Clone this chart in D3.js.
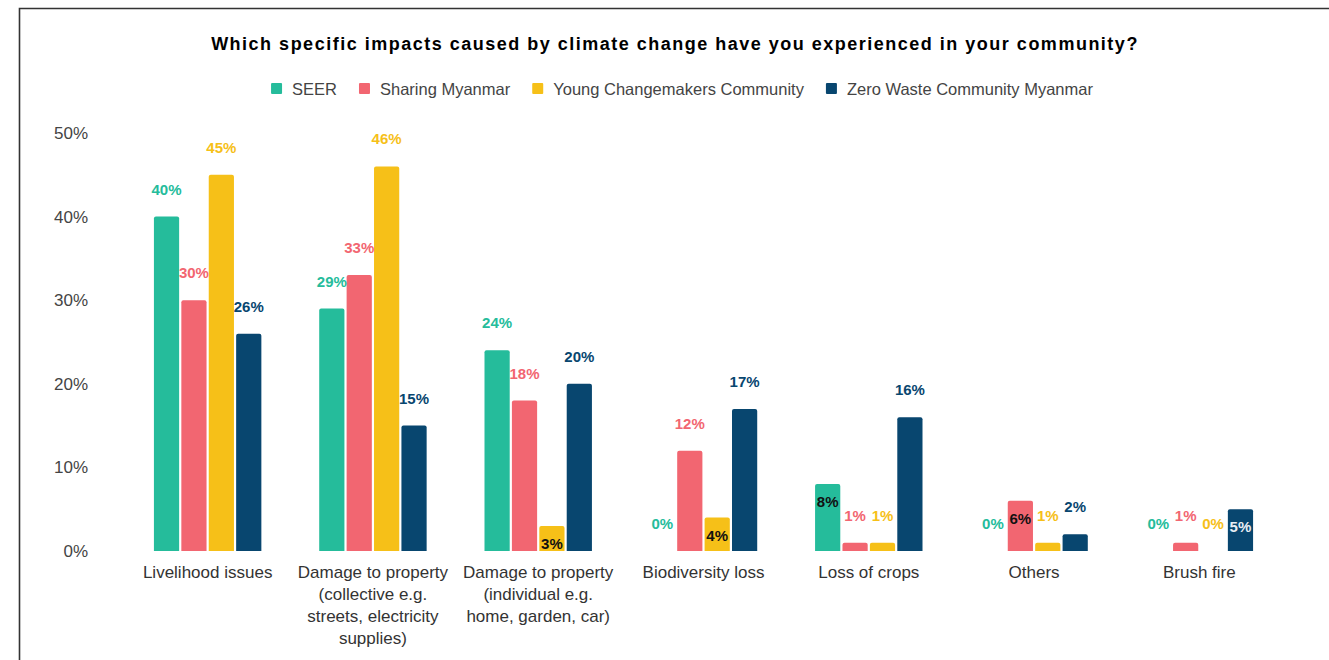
<!DOCTYPE html>
<html>
<head>
<meta charset="utf-8">
<script src="https://cdn.jsdelivr.net/npm/d3@7"></script>
<style>
  html, body { margin: 0; padding: 0; background: #fff; }
  svg { display: block; font-family: "Liberation Sans", Arial, sans-serif; }
</style>
</head>
<body>
<svg id="chart" width="1329" height="660"></svg>
<script>
const title = "Which specific impacts caused by climate change have you experienced in your community?";
const categories = [
  "Livelihood issues",
  "Damage to property\n(collective e.g.\nstreets, electricity\nsupplies)",
  "Damage to property\n(individual e.g.\nhome, garden, car)",
  "Biodiversity loss",
  "Loss of crops",
  "Others",
  "Brush fire"
];
const seriesNames = ["SEER", "Sharing Myanmar", "Young Changemakers Community", "Zero Waste Community Myanmar"];
const seer              = [40, 29, 24, 0, 8, 0, 0];
const sharingMyanmar    = [30, 33, 18, 12, 1, 6, 1];
const youngChangemakers = [45, 46, 3, 4, 1, 1, 0];
const zeroWaste         = [26, 15, 20, 17, 16, 2, 5];
const yTicks = [0, 10, 20, 30, 40, 50];
const colors = ["#25bc9b", "#f26671", "#f6c018", "#08466f"];

const seriesValues = [seer, sharingMyanmar, youngChangemakers, zeroWaste];

const svg = d3.select("#chart");

// frame
svg.append("path")
  .attr("d", "M19.5,660 L19.5,8.5 L1329,8.5")
  .attr("fill", "none").attr("stroke", "#333").attr("stroke-width", 1.6);

// title
svg.append("text")
  .attr("x", 675).attr("y", 50)
  .attr("text-anchor", "middle")
  .attr("font-size", 18).attr("font-weight", "bold").attr("fill", "#000")
  .attr("letter-spacing", 1.5)
  .text(title);

const y = d3.scaleLinear().domain([0, 50]).range([551, 133]);
const x0 = d3.scaleBand().domain(categories).range([125, 1282]).paddingInner(0.35).paddingOuter(0.175);
const x1 = d3.scaleBand().domain(seriesNames).range([0, x0.bandwidth()]).paddingInner(0.08);

// y axis
const yAxis = d3.axisLeft(y).tickValues(yTicks).tickFormat(d => d + "%").tickSize(0).tickPadding(0);
const gy = svg.append("g").attr("transform", "translate(88,0)").call(yAxis);
gy.select(".domain").remove();
gy.selectAll("text").attr("font-size", 17).attr("fill", "#444").attr("font-family", "Liberation Sans, Arial, sans-serif");

// x axis
const xAxis = d3.axisBottom(x0).tickSize(0).tickPadding(0).tickFormat("");
const gx = svg.append("g").attr("transform", "translate(0,551)").call(xAxis);
gx.select(".domain").remove();
gx.selectAll(".tick").each(function(d) {
  const lines = d.split("\n");
  const t = d3.select(this).append("text")
    .attr("text-anchor", "middle").attr("font-size", 17).attr("fill", "#333")
    .attr("font-family", "Liberation Sans, Arial, sans-serif");
  lines.forEach((ln, i) => {
    t.append("tspan").attr("x", 0).attr("y", 27 + i * 22).text(ln);
  });
});

// bars
const rows = [];
categories.forEach((c, ci) => {
  seriesNames.forEach((s, si) => {
    rows.push({ cat: c, series: s, si: si, value: seriesValues[si][ci] });
  });
});

const g = svg.append("g");
g.selectAll("path.bar").data(rows.filter(d => d.value > 0)).join("path")
  .attr("class", "bar")
  .attr("fill", d => colors[d.si])
  .attr("d", d => {
    const bx = x0(d.cat) + x1(d.series), bw = x1.bandwidth();
    const top = y(d.value), base = y(0), r = Math.min(2, (base - top) / 2);
    return `M${bx},${base} L${bx},${top + r} Q${bx},${top} ${bx + r},${top} L${bx + bw - r},${top} Q${bx + bw},${top} ${bx + bw},${top + r} L${bx + bw},${base} Z`;
  });

// labels
g.selectAll("text.lab").data(rows).join("text")
  .attr("class", "lab")
  .attr("text-anchor", "middle")
  .attr("font-size", 15).attr("font-weight", "bold")
  .attr("x", d => x0(d.cat) + x1(d.series) + x1.bandwidth() / 2)
  .attr("y", d => {
    const inside = d.value >= 3 && d.value <= 8;
    return inside ? y(d.value) + 23 : y(d.value) - 22;
  })
  .attr("fill", d => {
    const inside = d.value >= 3 && d.value <= 8;
    if (inside) return d.si === 3 ? "#e8eef4" : "#111";
    return colors[d.si];
  })
  .text(d => d.value + "%");

// legend
const legend = svg.append("g").attr("transform", "translate(0,89)");
const items = legend.selectAll("g").data(seriesNames).join("g");
items.append("rect").attr("width", 11).attr("height", 11).attr("y", -6).attr("rx", 1)
  .attr("fill", (d, i) => colors[i]);
items.append("text").attr("x", 21).attr("y", 6).attr("font-size", 16.5).attr("fill", "#444").text(d => d);
let cx = 0;
const widths = [];
items.each(function() {
  const w = 21 + this.querySelector("text").getComputedTextLength();
  widths.push(w);
});
const gap = 22;
const total = d3.sum(widths) + gap * (widths.length - 1);
cx = 682 - total / 2;
items.attr("transform", (d, i) => {
  const tx = cx;
  cx += widths[i] + gap;
  return `translate(${tx},0)`;
});
</script>
</body>
</html>
